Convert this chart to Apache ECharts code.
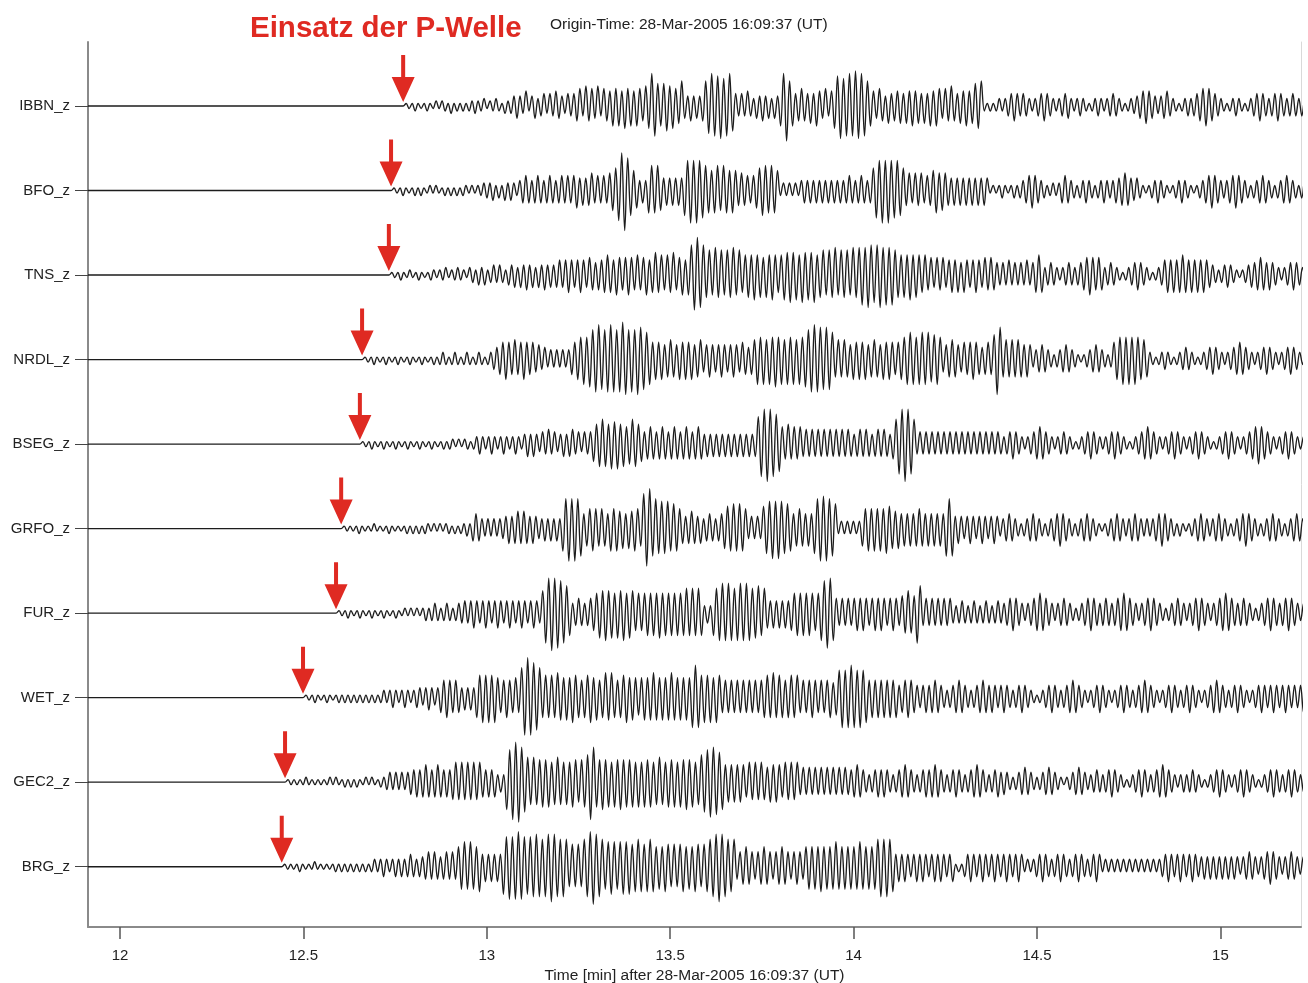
<!DOCTYPE html>
<html>
<head>
<meta charset="utf-8">
<script src="https://cdn.jsdelivr.net/npm/echarts@6/dist/echarts.min.js"></script>
<style>
  html, body { margin: 0; padding: 0; background: #ffffff; }
  #chart { width: 1308px; height: 983px; }
</style>
</head>
<body>
<div id="chart"></div>
<script>
// Stations, top to bottom
const stations = ['IBBN_z', 'BFO_z', 'TNS_z', 'NRDL_z', 'BSEG_z', 'GRFO_z', 'FUR_z', 'WET_z', 'GEC2_z', 'BRG_z'];
// Picked P onset per station [min after origin time]
const onsets = [12.772, 12.739, 12.733, 12.660, 12.654, 12.603, 12.589, 12.499, 12.450, 12.441];
const xTicks = [12, 12.5, 13, 13.5, 14, 14.5, 15];

// Peak amplitude of each successive half-cycle after the onset, one base-36 digit per
// half-cycle (sign alternates), sampled every 0.49 s.
const IBBN = ["111211121","1212213121212","2322312232132","3454362453","45354654354","567486758476","6878697868","7689","dc9","89a8977a","5464546","abdccdbcda","545464354645354","8dea8","5676575865746","9cdbcdceddca8","65764756","67576867575868757686576867","99a","2121232345654","543234565432345","53","23432123432345432123","345676543456","43212343","4567876543","2123432123","4565434565434543","4343"];
const BFO = ["1112111212112121121","2121221212","2333423243432","4565456545654","56565675656756565","789","cfgd","a87","454","9a9a8","5656565","acdcdcba","989a8a9898","6766567","9aa9a98","2323232","4545454545454","54565456545","9bcdcdcbca9","67576756","6897876","5656565656565","1212321232","3456765432","232","3565432","3454323454345","5676545","32123454321234543212","3456765434567","6543234565432345654323","43434"];
const TNS = ["11121121121112","2122312232213","3243423434324","45354645354645456","5676567657656","6787687678768","67867978687967868","cefdc","9a8b9a8a9b8a","7898a89798a87","8a9b9a8b9a9b8","9a8a9b8a9a8b9","bcbdcbcdbcbca","9898a89878","67576756767576567657676","5454645454645","787","3454323454345","6787676","34543212345654321234","676767876767676","543234543212345","5676565","43234565432","4545"];
const NRDL = ["11121112111211121112111","21232123212321232123","456787686787675645","34343434","6789a9b","cdeccdedcdfecdcedcba","78786787687878678","56765676567657656","8a9a8a9b9a8a9a8a9","bcdeddcdcb","78787687878678768787678","9aba9abab9aa9","56787657678765676","aed","7878787676","345654323456543212345654323","789a9a9a9887","321234321234543212","34565432345676543234565432345654323","4545"];
const BSEG = ["111211121112111211121112111","2122121221","23432343234323432","45454354645345456453545","789a98a9a8978a987","56765676567656765676","454545454545454545","bdefedcb","7686767","56565656565656565","45656545656546","acefeca","45454545454545454545454545454","3456543234","5676543234","5432123456","5432345654","3212345676","5432345654","3234565432","1234565432","3456787654","3234565432","3454345","4545"];
const GRFO = ["11111211112111121111","12121212212121221212","232","565","4343434","4565676765654","4545454","9cdcdcb","67898787698978687987","efg","bcabab9a98","6567656","4565456","899a9a98","45454","9abcbcbaa9","6787676","acdddcba","23232323","78989898a9878","676767876767676","bcb","565456545654565","3456543234","5654323456","7654323456","5432123456","5434565434","3456765432","3212345654","3456543234","5676543234","5654323456","5434565","4545"];
const FUR = ["111211121112111211121","1212121","2323432343234","454565456545654565456545654","9cefeedcb9","4565456","78a9b9a8a9b8a9787","89898a8989898","9a9a9a9","343","9abcbcbabcbcbaab9a","65656565","7898989878","bdeeb","65656","56767656767656765","78987","cb","5656565656","43454345434543454","4567654345","6787654345","6543234567","6545654567","8765434567","6543234565","4345676543","4567876545","6543234567","6545676543","4565456","4545"];
const WET = ["111211121112","1212121212121","2323432343234","4345434","6787676","45454","89a9a9a8","6787686","cfgfedc","89898a9898a98","789a8978a9a8789a8987","8989a98989a989898","cdc","9a9a8a9","6767676767676","7898a89878989","6767876767867","bcbcdcbcba","7878787878","5678765456","5676543456","7654345676","565","4565434565","4321234565","4345676543","2345654323","4565434567","6543234565","4345654323","4567654345","6543234565","4565456545","4565456","4545"];
const GEC2 = ["111111211111","11212112121211212112","2343434345","5656765676565","7878787878","65656","343","bdfggec","a9a99a9a","89a9898a98","9ab","fe","a9b9a8a9b9a9a8a","8a9a89a98a9a8a9b9a89","bcdeedcb","7878787687878768787687878","56565656565656565","5676543456","5654345676","5434565676","5434565434","5676543456","4543234565","4323456543","2123456543","3454345654","3212345654","3456765432","3434543212","3456543234","5654321234","5654345654","3454345","4545"];
const BRG = ["1111121111211111","1212121212121","2323432343","4345434","456565456565","89a9a98a","5656565","bcdcdedcbc","cdcbcdedcbcb","89898","bcefdcb","9aba9abab9aba9aba","898a98989a898a989","abcdedcbab","56787656787656787656765","89898a8989a9898989a98989bcbcba","56565456565456565456","121","45654565456545654565","232","34565434565434565434565","23232323232323232323","4565456545654","4545454545454","345654345676543456543456","4545"];

const peaks = [IBBN, BFO, TNS, NRDL, BSEG, GRFO, FUR, WET, GEC2, BRG];

// Axis ranges: trace k sits on y = k (BRG = 0 ... IBBN = 9)
const xMin = 11.9128, xMax = 15.2197;
const yMin = -0.7134, yMax = 9.757;
const dt = 0.49 / 60;           // half-cycle spacing [min]
const ampStep = 2.5 / 84.52;    // one amplitude digit in trace-spacing units

const nStations = stations.length;

function buildTrace(idx) {
  const base = nStations - 1 - idx;
  const digits = peaks[idx].join('');
  const pts = [[xMin, base], [onsets[idx], base]];
  for (let i = 0; i < digits.length; i++) {
    const v = parseInt(digits[i], 36);
    const sign = i % 2 === 0 ? 1 : -1;
    pts.push([onsets[idx] + (i + 1) * dt, base + sign * v * ampStep]);
  }
  return pts;
}

const traceSeries = stations.map((name, idx) => ({
  name: name,
  type: 'line',
  data: buildTrace(idx),
  showSymbol: false,
  symbol: 'none',
  smooth: 0.35,
  clip: true,
  lineStyle: { color: '#1c1c1c', width: 1.35 },
  silent: true,
  z: 2
}));

// Down arrow marking each P onset, tip just above the trace
const arrowPath = 'path://M9.5,0 L13.5,0 L13.5,22 L23,22 L11.5,47 L0,22 L9.5,22 Z';
const arrowSeries = {
  type: 'scatter',
  data: onsets.map((t, idx) => [t, nStations - 1 - idx]),
  symbol: arrowPath,
  symbolSize: [23, 47],
  symbolOffset: [0, -27.5],
  itemStyle: { color: '#df2a22', opacity: 1 },
  silent: true,
  clip: false,
  z: 5
};

const axisGrey = '#8a8a8a';
const font = 'Liberation Sans, Arial, Helvetica, sans-serif';
const stationTicks = stations.map((_, i) => i);

const chart = echarts.init(document.getElementById('chart'), null, { renderer: 'canvas' });
chart.setOption({
  animation: false,
  backgroundColor: '#ffffff',
  grid: { left: 88, right: 7, top: 42, bottom: 56, containLabel: false, outerBoundsMode: 'none' },
  xAxis: {
    type: 'value',
    min: xMin,
    max: xMax,
    axisLine: { show: true, onZero: false, lineStyle: { color: axisGrey, width: 2 } },
    axisTick: { show: true, customValues: xTicks, length: 12, lineStyle: { color: '#555', width: 1.5 } },
    axisLabel: { customValues: xTicks, margin: 21, fontSize: 15, color: '#222', fontFamily: font },
    splitLine: { show: false },
    name: 'Time [min] after 28-Mar-2005 16:09:37 (UT)',
    nameLocation: 'middle',
    nameGap: 41,
    nameTextStyle: { fontSize: 15.5, color: '#222', fontFamily: font }
  },
  yAxis: [{
    type: 'value',
    min: yMin,
    max: yMax,
    axisLine: { show: true, onZero: false, lineStyle: { color: axisGrey, width: 2 } },
    axisTick: { show: true, customValues: stationTicks, length: 13, lineStyle: { color: '#444', width: 1 } },
    axisLabel: {
      customValues: stationTicks,
      margin: 18,
      fontSize: 15,
      color: '#222',
      fontFamily: font,
      formatter: v => stations[nStations - 1 - Math.round(v)]
    },
    splitLine: { show: false }
  }, {
    type: 'value',
    position: 'right',
    min: yMin,
    max: yMax,
    axisLine: { show: true, onZero: false, lineStyle: { color: '#d9d9d9', width: 1 } },
    axisTick: { show: false },
    axisLabel: { show: false },
    splitLine: { show: false }
  }],
  graphic: [
    {
      type: 'text',
      left: 250,
      top: 14,
      style: {
        text: 'Einsatz der P-Welle',
        fill: '#df2a22',
        font: 'bold 29.5px ' + font
      }
    },
    {
      type: 'text',
      left: 550,
      top: 17,
      style: {
        text: 'Origin-Time: 28-Mar-2005 16:09:37 (UT)',
        fill: '#222',
        font: '15.5px ' + font
      }
    }
  ],
  series: traceSeries.concat([arrowSeries])
});
</script>
</body>
</html>
